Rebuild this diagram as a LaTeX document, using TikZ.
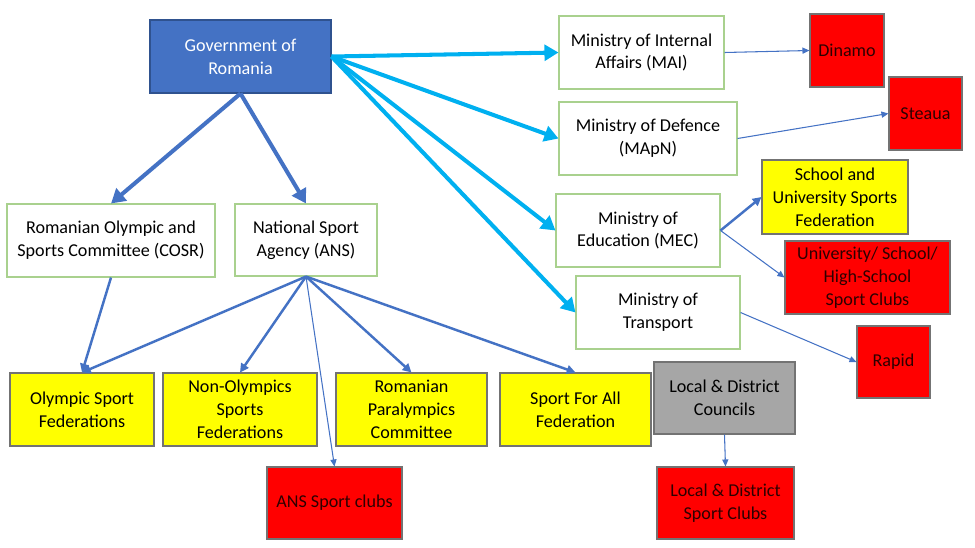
\documentclass[tikz,border=0pt]{standalone}
\usepackage{fontspec}
\setmainfont{Carlito}
\usepackage{tikz}
\usetikzlibrary{arrows.meta, positioning}
\definecolor{govblue}{RGB}{68,114,196}
\definecolor{govedge}{RGB}{47,82,143}
\definecolor{minedge}{RGB}{169,209,142}
\definecolor{fedyellow}{RGB}{255,255,0}
\definecolor{clubred}{RGB}{255,0,0}
\definecolor{clubtext}{RGB}{45,0,0}
\definecolor{mincyan}{RGB}{0,176,240}
\definecolor{councilgray}{RGB}{166,166,166}
\definecolor{boxedge}{RGB}{115,115,115}
\tikzset{
  box/.style={rectangle, align=center, inner sep=2pt,
    font=\fontsize{10.3}{13}\selectfont, line width=0.6pt},
  govbox/.style={box, draw=govedge, fill=govblue, text=white},
  minbox/.style={box, draw=minedge, fill=white},
  fedbox/.style={box, draw=boxedge, fill=fedyellow},
  clubbox/.style={box, draw=boxedge, fill=clubred, text=clubtext},
  councilbox/.style={box, draw=boxedge, fill=councilgray},
  bigarrow/.style={-{Triangle[length=8pt,width=9pt]}, line width=2.3pt, color=govblue},
  cyanarrow/.style={-{Triangle[length=8pt,width=9pt]}, line width=2.3pt, color=mincyan},
  midarrow/.style={-{Triangle[length=5pt,width=5pt]}, line width=1.4pt, color=govblue},
  thinarrow/.style={-{Triangle[length=4pt,width=3.5pt]}, line width=0.6pt, color=govblue}
}

\begin{document}
\begin{tikzpicture}[x=0.02cm, y=-0.02cm]
  \useasboundingbox (0,0) rectangle (975,548);

  % Government and its two national bodies
  \node[govbox, minimum width=3.62cm, minimum height=1.46cm] (gov) at (240.5,56.5) {Government of\\Romania};
  \node[minbox, minimum width=4.16cm, minimum height=1.46cm] (cosr) at (111,240.5) {Romanian Olympic and\\Sports Committee (COSR)};
  \node[minbox, minimum width=2.84cm, minimum height=1.44cm] (ans) at (306,240) {National Sport\\Agency (ANS)};

  % Ministries
  \node[minbox, minimum width=3.30cm, minimum height=1.46cm] (mai) at (641.5,52.5) {Ministry of Internal\\Affairs (MAI)};
  \node[minbox, minimum width=3.56cm, minimum height=1.46cm] (mapn) at (648,138.5) {Ministry of Defence\\(MApN)};
  \node[minbox, minimum width=3.28cm, minimum height=1.46cm] (mec) at (638,230.5) {Ministry of\\Education (MEC)};
  \node[minbox, minimum width=3.28cm, minimum height=1.46cm] (transp) at (658,312.5) {Ministry of\\Transport};

  % Clubs and federations on the right
  \node[clubbox, minimum width=1.48cm, minimum height=1.46cm] (dinamo) at (847,50.5) {Dinamo};
  \node[clubbox, minimum width=1.46cm, minimum height=1.46cm] (steaua) at (925.5,113.5) {Steaua};
  \node[fedbox, minimum width=2.92cm, minimum height=1.48cm] (schoolfed) at (835,197) {School and\\University Sports\\Federation};
  \node[clubbox, minimum width=3.30cm, minimum height=1.46cm] (uniclubs) at (867.5,277.5) {University/ School/\\High-School\\Sport Clubs};
  \node[clubbox, minimum width=1.46cm, minimum height=1.44cm] (rapid) at (893.5,362) {Rapid};
  \node[councilbox, minimum width=2.82cm, minimum height=1.44cm] (councils) at (724.5,398) {Local \& District\\Councils};
  \node[clubbox, minimum width=2.74cm, minimum height=1.44cm] (localclubs) at (725.5,503) {Local \& District\\Sport Clubs};

  % Federations under COSR and ANS
  \node[fedbox, minimum width=2.88cm, minimum height=1.46cm] (olyfed) at (82,409.5) {Olympic Sport\\Federations};
  \node[fedbox, minimum width=3.08cm, minimum height=1.46cm] (nonoly) at (240,409.5) {Non-Olympics\\Sports\\Federations};
  \node[fedbox, minimum width=3.02cm, minimum height=1.46cm] (para) at (411.5,409.5) {Romanian\\Paralympics\\Committee};
  \node[fedbox, minimum width=3.02cm, minimum height=1.46cm] (sfa) at (575.5,409.5) {Sport For All\\Federation};
  \node[clubbox, minimum width=2.70cm, minimum height=1.44cm] (ansclubs) at (334.5,503) {ANS Sport clubs};

  % Government links
  \draw[bigarrow] (gov.south) -- (cosr.north);
  \draw[bigarrow] (gov.south) -- (ans.north);
  \draw[cyanarrow] (gov.east) -- (mai.west);
  \draw[cyanarrow] (gov.east) -- (mapn.west);
  \draw[cyanarrow] (gov.east) -- (mec.west);
  \draw[cyanarrow] (gov.east) -- (transp.west);

  % COSR and ANS links
  \draw[midarrow] (cosr.south) -- (olyfed.north);
  \draw[midarrow] (ans.south) -- (olyfed.north);
  \draw[midarrow] (ans.south) -- (nonoly.north);
  \draw[midarrow] (ans.south) -- (para.north);
  \draw[midarrow] (ans.south) -- (sfa.north);
  \draw[thinarrow] (ans.south) -- (ansclubs.north);

  % Ministry links
  \draw[thinarrow] (mai.east) -- (dinamo.west);
  \draw[thinarrow] (mapn.east) -- (steaua.west);
  \draw[midarrow] (mec.east) -- (schoolfed.west);
  \draw[thinarrow] (mec.east) -- (uniclubs.west);
  \draw[thinarrow] (transp.east) -- (rapid.west);
  \draw[thinarrow] (councils.south) -- (localclubs.north);
\end{tikzpicture}
\end{document}
